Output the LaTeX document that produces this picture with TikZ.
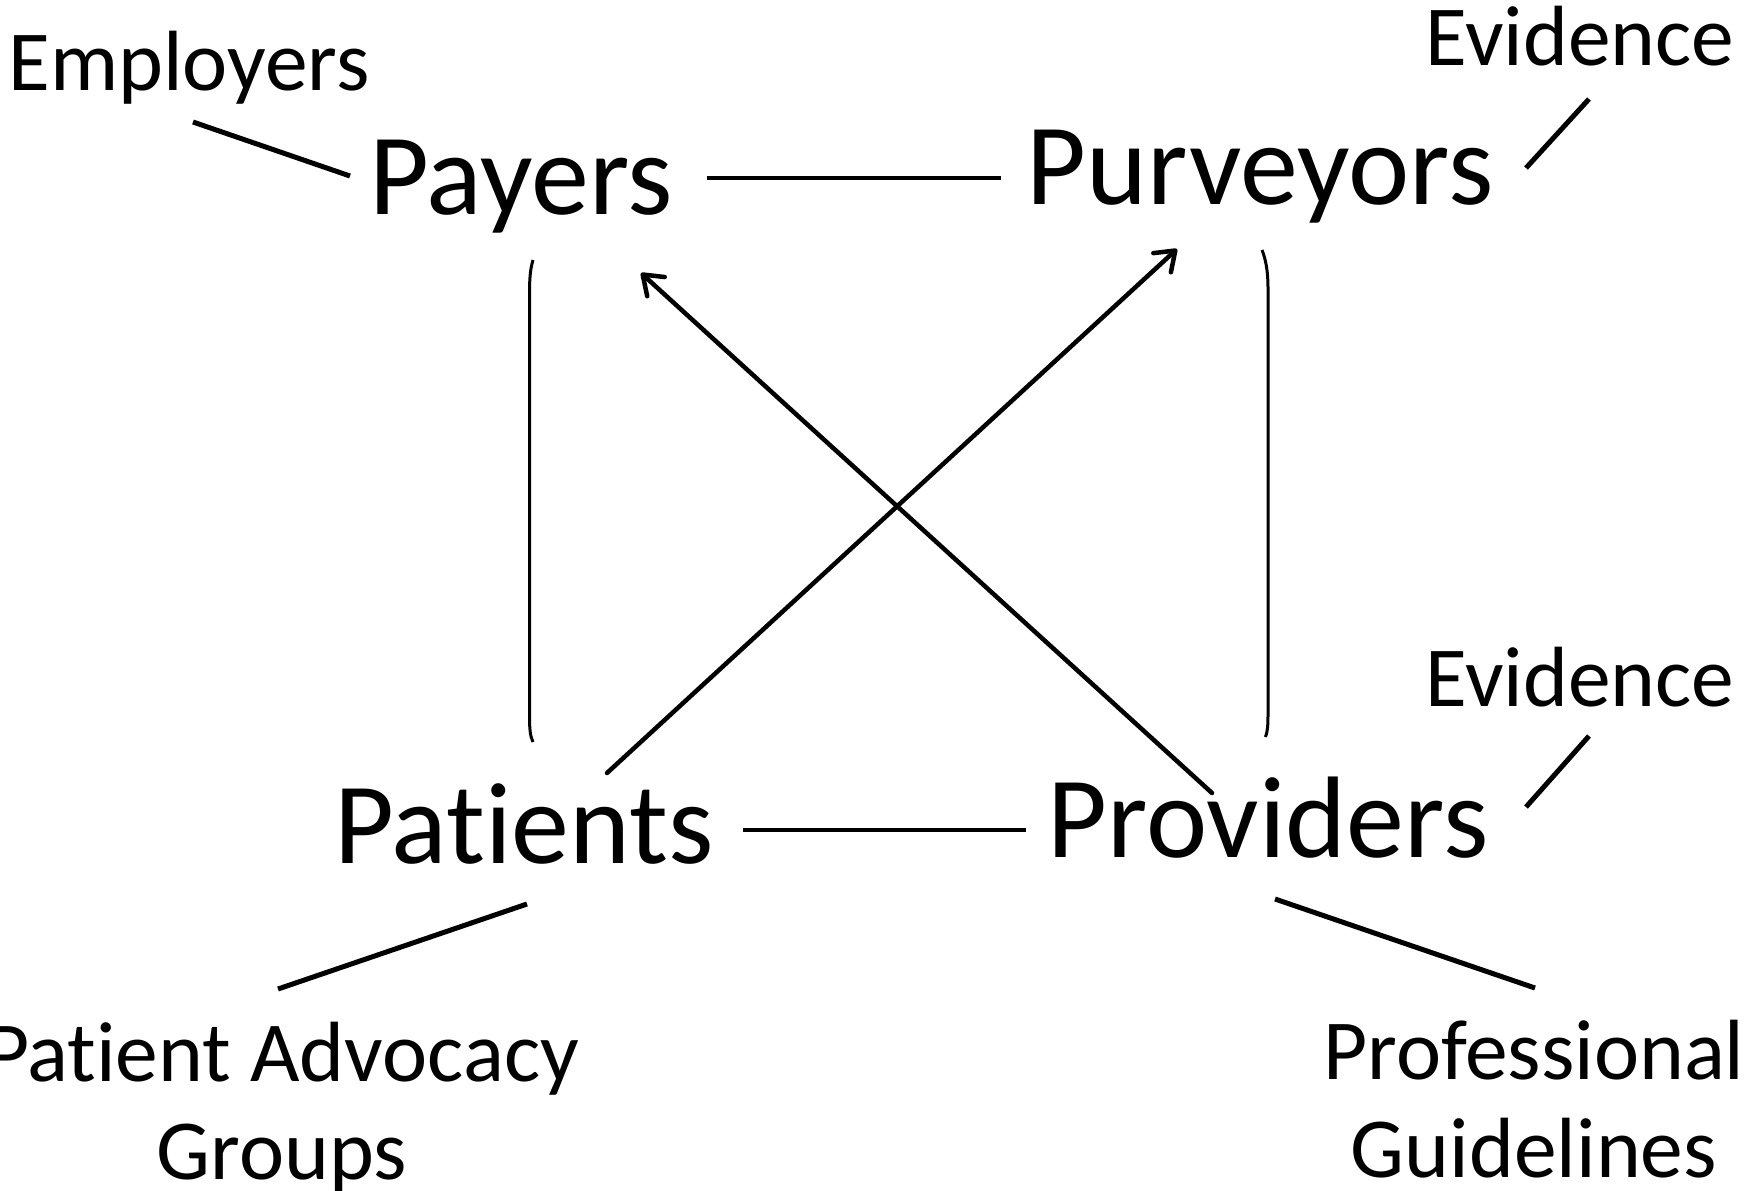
\documentclass[tikz,border=0pt]{standalone}
\usepackage{fontspec}
\setmainfont{Carlito}[Ligatures=NoCommon]
\usetikzlibrary{arrows.meta}
\begin{document}
\begin{tikzpicture}[x=1pt,y=-1pt,
  big/.style={font=\fontsize{116}{138}\selectfont, inner sep=0pt, anchor=base},
  small/.style={font=\fontsize{85.5}{98}\selectfont, inner sep=0pt, anchor=base, align=center},
  link/.style={line width=3.5pt},
  bracket/.style={line width=3pt},
  annot/.style={line width=5pt},
  influence/.style={line width=4.5pt, line cap=round,
    -{Straight Barb[length=18pt,width=26pt,line width=4.5pt,round]}}]
\useasboundingbox (0,0) rectangle (1757,1191);

% the four parties
\node[big] (payers)    at (521,214) {Payers};
\node[big] (purveyors) at (1260,204) {Purveyors};
\node[big] (patients)  at (524,863) {Patients};
\node[big] (providers) at (1268,857) {Providers};

% outside influences
\node[small] (employers) at (189,90)   {Employers};
\node[small] (evidA)     at (1580,65)  {Evidence};
\node[small] (evidB)     at (1580,706) {Evidence};
\node[small] (advocacy)  at (282,1179) {Patient Advocacy\\Groups};
\node[small] (guide)     at (1534,1177) {Professional\\Guidelines};

% connector end points
\coordinate (payE)  at (707,178);
\coordinate (purW)  at (1001,178);
\coordinate (patE)  at (743,830);
\coordinate (proW)  at (1026,830);
\coordinate (empS)  at (193,122);
\coordinate (payW)  at (350,176);
\coordinate (evAS)  at (1589,99);
\coordinate (purE)  at (1526,168);
\coordinate (evBS)  at (1589,736);
\coordinate (proE)  at (1526,807);
\coordinate (patS)  at (527,904);
\coordinate (advN)  at (278,989);
\coordinate (proS)  at (1275,899);
\coordinate (guiN)  at (1535,988);
\coordinate (patNE) at (607,773);
\coordinate (purSW) at (1177,249);
\coordinate (proNW) at (1212,793);
\coordinate (paySE) at (641,273);

% horizontal links
\draw[link] (payE) -- (purW);
\draw[link] (patE) -- (proW);

% vertical brackets
\draw[bracket] (533,260) .. controls (530,270) and (529.5,280) .. (529.5,295)
  -- (529.5,715) .. controls (529.5,728) and (530,736) .. (533,742);
\draw[bracket] (1262,250) .. controls (1266,260) and (1268,272) .. (1268,288)
  -- (1268,715) .. controls (1268,725) and (1267.5,732) .. (1265.5,737);

% influence lines
\draw[annot] (empS) -- (payW);
\draw[annot] (evAS) -- (purE);
\draw[annot] (evBS) -- (proE);
\draw[annot] (patS) -- (advN);
\draw[annot] (proS) -- (guiN);

% crossing arrows
\draw[influence] (patNE) -- (purSW);
\draw[influence] (proNW) -- (paySE);
\end{tikzpicture}
\end{document}
